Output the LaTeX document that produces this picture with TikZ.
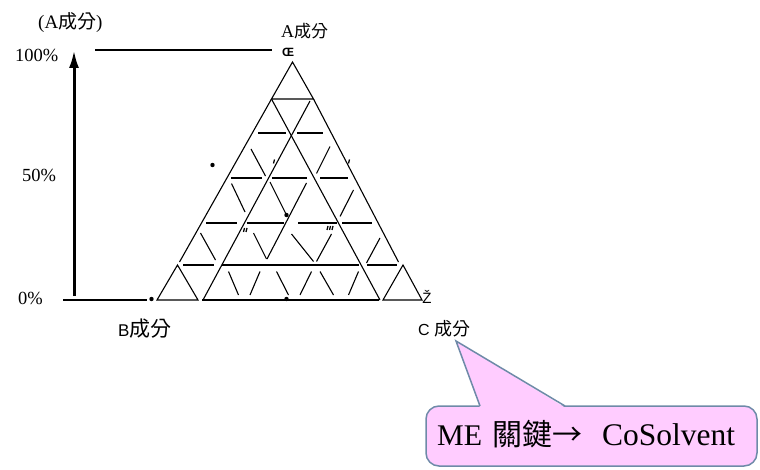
\documentclass[tikz,border=0pt]{standalone}
\usepackage{fontspec}
\setmainfont{Liberation Serif}
\newfontfamily\cjkf{Noto Sans CJK TC}
\newfontfamily\arialf{Liberation Sans}
\usetikzlibrary{arrows.meta}
\definecolor{calloutfill}{RGB}{255,204,255}
\definecolor{calloutedge}{RGB}{110,138,168}
\tikzset{
  grid/.style={line width=1.1pt, line cap=butt},
  bold base/.style={line width=2.6pt},
  lbl/.style={inner sep=0pt, anchor=west},
  dotmark/.style={fill=black},
  tick/.style={line width=1.3pt}
}
\begin{document}
\begin{tikzpicture}[x=1pt,y=-1pt]
\useasboundingbox (0,0) rectangle (760,470);
% axis
\draw[line width=3pt,-{Latex[length=18pt,width=10pt]}] (74,296) -- (74,50);
\draw[grid] (95,50) -- (272,50);
\draw[grid] (63,300) -- (147,300);
% labels
\node[lbl] (atitle) at (38,23) {\fontsize{19}{22}\selectfont (A{\cjkf\fontsize{19}{22}\selectfont 成分})};
\node[lbl] (p100) at (15,55) {\fontsize{18.5}{20}\selectfont 100\%};
\node[lbl] (p50) at (22,175) {\fontsize{18.5}{20}\selectfont 50\%};
\node[lbl] (p0) at (18,298) {\fontsize{18.5}{20}\selectfont 0\%};
\node[lbl] (alab) at (281,31) {\fontsize{18}{20}\selectfont A{\cjkf\fontsize{17}{20}\selectfont 成分}};
\node[inner sep=0pt] (oe) at (288,52) {\arialf\bfseries\fontsize{12}{14}\selectfont Œ};
\node[lbl] (blab) at (118,329) {\arialf\fontsize{17}{20}\selectfont B{\cjkf\fontsize{21}{24}\selectfont 成分}};
\node[lbl] (clab) at (418,329) {\arialf\fontsize{16}{20}\selectfont C {\cjkf\fontsize{18}{20}\selectfont 成分}};
\node[inner sep=0pt] (zc) at (427,297) {\arialf\fontsize{15}{18}\selectfont Ž};
% triangle: outer pieces
\draw[grid] (292.5,62) -- (271.5,99) -- (313.5,99) -- cycle;
\draw[grid] (271.5,99) -- (179.5,262);
\draw[grid] (313.5,99) -- (398.5,262);
\draw[grid] (157,300) -- (177.5,265) -- (198,300) -- cycle;
\draw[grid] (383,300) -- (403,265) -- (422,300) -- cycle;
% long inner lines
\draw[grid] (271.5,99) -- (380,300);
\draw[grid] (310,101) -- (203,300);
% horizontal pieces
\draw[grid] (258,133) -- (285.5,133);
\draw[grid] (297,133) -- (322.5,133);
\draw[grid] (231,178) -- (261.5,178);
\draw[grid] (272,178) -- (307,178);
\draw[grid] (320,178) -- (348,178);
\draw[grid] (206,223) -- (236.5,223);
\draw[grid] (246.5,223) -- (284,223);
\draw[grid] (298,223) -- (336.5,223);
\draw[grid] (342,223) -- (372,223);
\draw[grid] (183,265) -- (213.5,265);
\draw[grid] (222,265) -- (358.5,265);
\draw[grid] (367,265) -- (397,265);
\draw[bold base] (202,300) -- (378.5,300);
% short diagonal pieces
\draw[grid] (251,149) -- (265.5,176);
\draw[grid] (330,146.5) -- (316.5,173.5);
\draw[grid] (231.5,183.5) -- (245,212);
\draw[grid] (270,182) -- (286.5,215);
\draw[grid] (306.5,183) -- (267,259);
\draw[grid] (353.5,190) -- (340,216.5);
\draw[grid] (200.5,233) -- (215.5,260);
\draw[grid] (253.5,233) -- (266.5,259);
\draw[grid] (291.5,234) -- (313.5,261.5);
\draw[grid] (331.5,234) -- (316.5,261.5);
\draw[grid] (380,238) -- (366.5,263);
\draw[grid] (228.5,271.5) -- (238.5,295);
\draw[grid] (260,271.5) -- (250,295);
\draw[grid] (276.5,271.5) -- (288.5,295);
\draw[grid] (311.5,271.5) -- (300,295);
\draw[grid] (320,271.5) -- (333.5,295);
\draw[grid] (358.5,271.5) -- (348.5,295);
% tiny marks
\draw[tick] (274.5,159.5) -- (273.5,163.5);
\draw[tick] (349.5,159.5) -- (348.5,163.5);
\draw[tick] (244.5,228) -- (243.5,232);
\draw[tick] (247,228) -- (246,232);
\draw[tick] (328,226) -- (327,230);
\draw[tick] (330.5,226) -- (329.5,230);
\draw[tick] (333,226) -- (332,230);
% dots
\fill[dotmark] (212.5,165) circle (2.2);
\fill[dotmark] (286.5,215) circle (2.2);
\fill[dotmark] (151.5,299) circle (2.2);
\fill[dotmark] (286.5,299) circle (2.2);
% callout
\draw[fill=calloutfill, draw=calloutedge, line width=1.5pt, rounded corners=13pt] (426,406) rectangle (757,466);
\fill[calloutfill] (480,407.5) -- (456,341) -- (565,407.5) -- cycle;
\draw[draw=calloutedge, line width=1.5pt, line join=miter] (480,406) -- (456,341) -- (565,406);
\node[lbl] (ctext) at (437,434) {\fontsize{30}{34}\selectfont ME\hspace{10pt}{\cjkf 關鍵→}\hspace{20pt}{\fontsize{31.5}{34}\selectfont CoSolvent}};
\end{tikzpicture}
\end{document}
